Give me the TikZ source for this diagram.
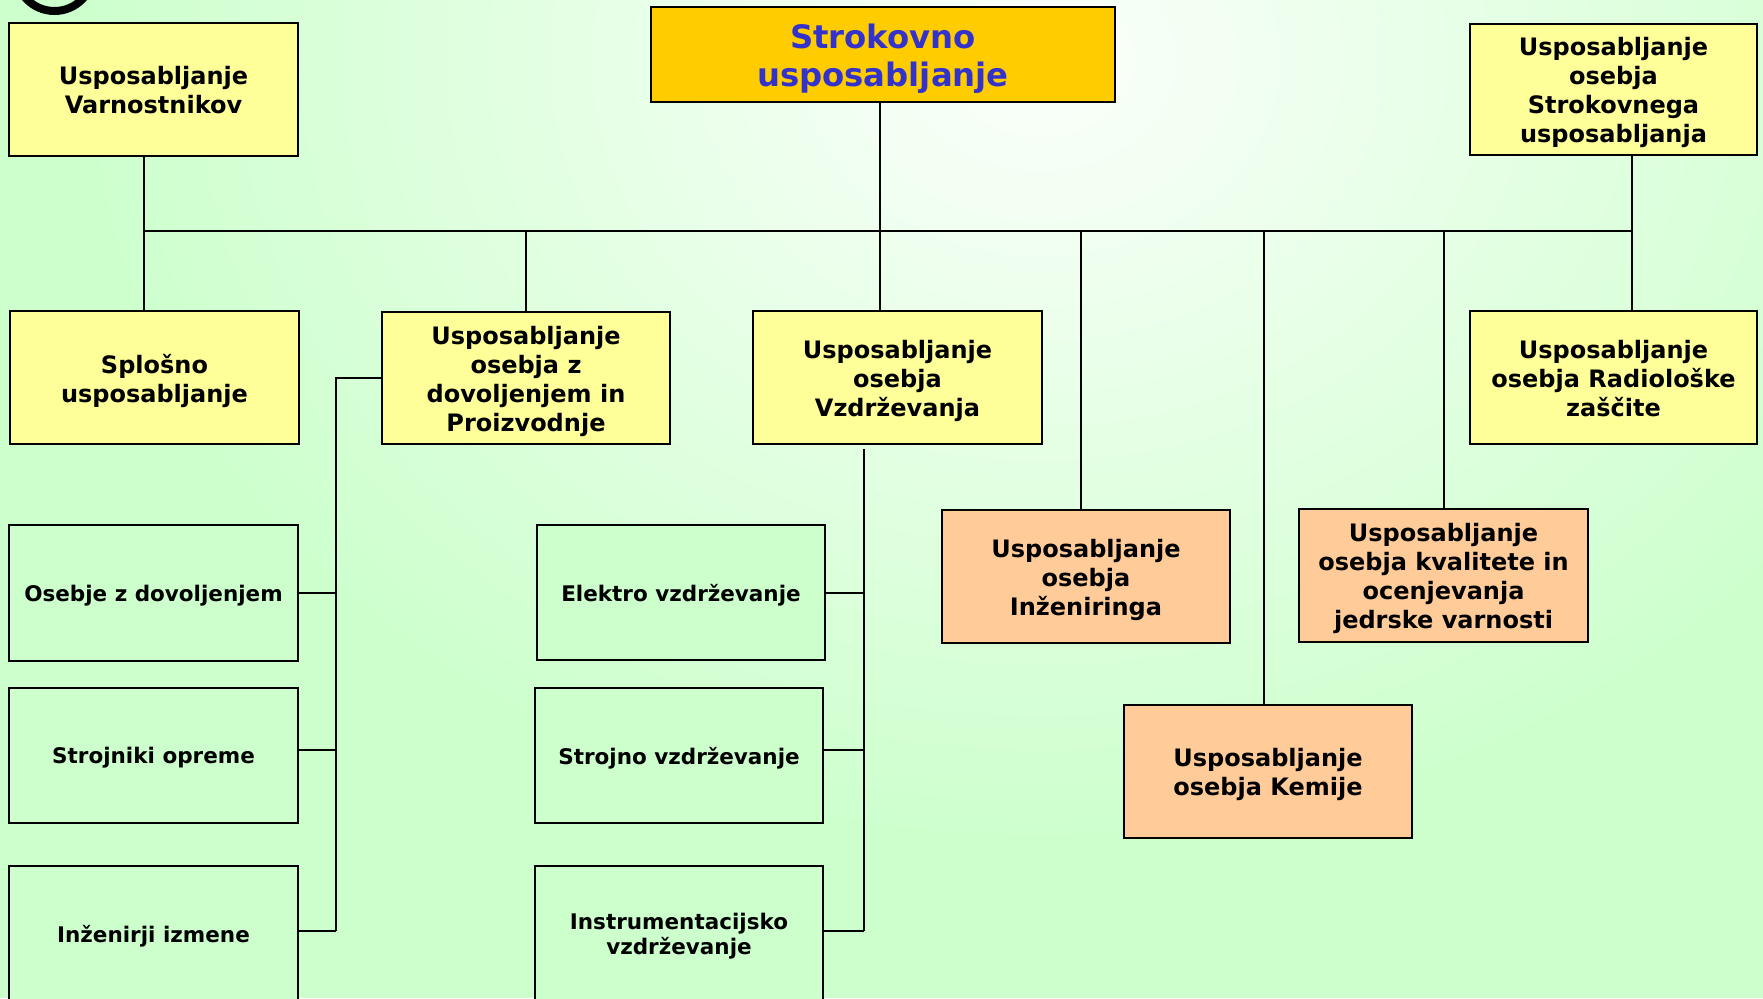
\documentclass[tikz,border=0pt]{standalone}
\usepackage{fontspec}
\setmainfont{DejaVu Sans}
\definecolor{ybox}{HTML}{FFFF99}
\definecolor{gbox}{HTML}{CCFFCC}
\definecolor{obox}{HTML}{FFCC99}
\definecolor{tbox}{HTML}{FFCC00}
\definecolor{ttext}{HTML}{3333CC}
\definecolor{bgout}{HTML}{CCFFCC}
\definecolor{bgin}{HTML}{FBFFFB}
\begin{document}
\begin{tikzpicture}[x=1pt,y=-1pt,
  box/.style={draw=black, line width=2.4pt, minimum width=289pt, minimum height=133pt, inner sep=0pt},
  lblbase/.style={align=center, inner sep=0pt, text=black},
  lbl/.style={lblbase, yshift=-3pt, font=\bfseries\fontsize{24}{29}\selectfont},
  hlbl/.style={lblbase, yshift=-0.8pt, font=\bfseries\fontsize{24}{29}\selectfont},
  glbl/.style={lblbase, yshift=-2.5pt, font=\bfseries\fontsize{21.5}{25}\selectfont},
  tlbl/.style={lblbase, yshift=-4.5pt, text=ttext, font=\bfseries\fontsize{32.3}{38}\selectfont},
  txt/.style={label={[lbl]center:{#1}}},
  htxt/.style={label={[hlbl]center:{#1}}},
  gtxt/.style={label={[glbl]center:{#1}}},
  ttxt/.style={label={[tlbl]center:{#1}}},
  yb/.style={box, fill=ybox},
  ob/.style={box, fill=obox},
  gb/.style={box, fill=gbox, minimum height=135pt},
  tb/.style={box, fill=tbox, minimum width=464pt, minimum height=95pt},
  conn/.style={line width=2pt, black}]
\useasboundingbox (0,0) rectangle (1763,998);
\clip (0,0) rectangle (1763,998);
% background
\fill[bgout] (0,0) rectangle (1763,998);
\shade[inner color=bgin, outer color=bgout] (1040,60) ellipse [x radius=980pt, y radius=800pt];
% partial circle at top left
\draw[line width=8pt, black] (54.5,-27.7) circle [radius=38.7pt];
% nodes
\node[tb, ttxt={Strokovno\\usposabljanje}] (top) at (883,54.5) {};
\node[yb, htxt={Usposabljanje\\Varnostnikov}] (var) at (153.5,89.5) {};
\node[yb, minimum width=287pt, minimum height=131pt, txt={Usposabljanje\\osebja\\Strokovnega\\usposabljanja}] (str) at (1613.5,89.5) {};
\node[yb, txt={Splošno\\usposabljanje}] (splo) at (154.5,377.5) {};
\node[yb, minimum width=288pt, minimum height=132pt, txt={Usposabljanje\\osebja z\\dovoljenjem in\\Proizvodnje}] (proiz) at (526,378) {};
\node[yb, txt={Usposabljanje\\osebja\\Vzdrževanja}] (vzd) at (897.5,377.5) {};
\node[yb, minimum width=287pt, htxt={Usposabljanje\\osebja Radiološke\\zaščite}] (rad) at (1613.5,377.5) {};
\node[gb, minimum height=136pt, gtxt={Osebje z dovoljenjem}] (osd) at (153.5,593) {};
\node[gb, gtxt={Strojniki opreme}] (stroj) at (153.5,755.5) {};
\node[gb, minimum height=136pt, gtxt={Inženirji izmene}] (inz) at (153.5,934) {};
\node[gb, minimum width=288pt, gtxt={Elektro vzdrževanje}] (ele) at (681,592.5) {};
\node[gb, minimum width=288pt, gtxt={Strojno vzdrževanje}] (strv) at (679,755.5) {};
\node[gb, minimum width=288pt, minimum height=136pt, gtxt={Instrumentacijsko\\vzdrževanje}] (ins) at (679,934) {};
\node[ob, minimum width=288pt, txt={Usposabljanje\\osebja\\Inženiringa}] (inzg) at (1086,576.5) {};
\node[ob, txt={Usposabljanje\\osebja kvalitete in\\ocenjevanja\\jedrske varnosti}] (kval) at (1443.5,575.5) {};
\node[ob, minimum width=288pt, txt={Usposabljanje\\osebja Kemije}] (kem) at (1268,771.5) {};
% bus coordinates
\coordinate (bL) at (144,231);
\coordinate (bR) at (1631.5,231);
\coordinate (bT) at (880,231);
\coordinate (bI) at (1080.5,231);
\coordinate (bK) at (1264,231);
\coordinate (lv) at (336,931);
\coordinate (rv) at (864,931);
% connectors
\draw[conn] (bL) -- (bR);
\draw[conn] (var.south -| bL) -- (splo.north -| bL);
\draw[conn] (top.south -| bT) -- (vzd.north -| bT);
\draw[conn] (proiz.north) -- (proiz.north |- bL);
\draw[conn] (bI) -- (inzg.north -| bI);
\draw[conn] (bK) -- (kem.north -| bK);
\draw[conn] (kval.north |- bL) -- (kval.north);
\draw[conn] (str.south -| bR) -- (rad.north -| bR);
% left tree
\draw[conn] (proiz.west) -- (proiz.west -| lv) -- (lv);
\draw[conn] (osd.east) -- (osd.east -| lv);
\draw[conn] ([yshift=5.5pt]stroj.east) -- ([yshift=5.5pt]stroj.east -| lv);
\draw[conn] ([yshift=3pt]inz.east) -- (lv);
% right tree
\draw[conn] ([yshift=-3.5pt]vzd.south -| rv) -- (rv);
\draw[conn] (ele.east) -- (ele.east -| rv);
\draw[conn] ([yshift=5.5pt]strv.east) -- ([yshift=5.5pt]strv.east -| rv);
\draw[conn] ([yshift=3pt]ins.east) -- (rv);
\end{tikzpicture}
\end{document}
